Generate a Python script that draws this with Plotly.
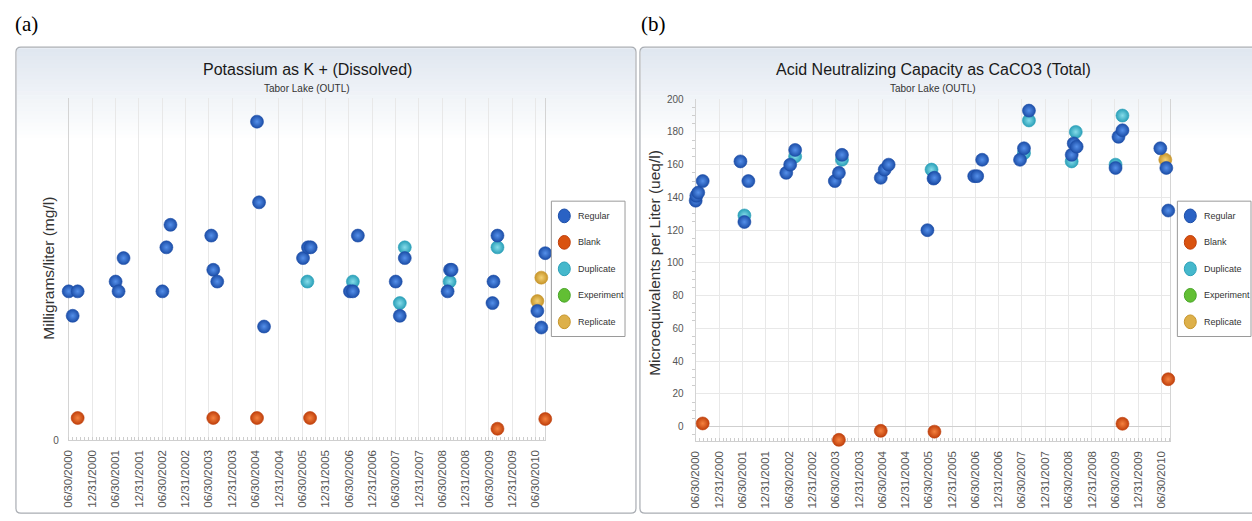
import plotly.graph_objects as go
import pandas as pd

W, H = 1252, 521

# ---------------- data ----------------
categories = ["Regular", "Blank", "Duplicate", "Experiment", "Replicate"]
cat_edge = ["#1c4ea8", "#c0400c", "#2aa0b8", "#4aa62a", "#c7952a"]
cat_center = ["#5590ea", "#f5823f", "#86dcea", "#9ade66", "#f4d275"]
cat_mid = ["#2a62c4", "#d9520f", "#45b8cc", "#62bf34", "#ddb04a"]

tick_labels = ["06/30/2000", "12/31/2000", "06/30/2001", "12/31/2001", "06/30/2002",
               "12/31/2002", "06/30/2003", "12/31/2003", "06/30/2004", "12/31/2004",
               "06/30/2005", "12/31/2005", "06/30/2006", "12/31/2006", "06/30/2007",
               "12/31/2007", "06/30/2008", "12/31/2008", "06/30/2009", "12/31/2009",
               "06/30/2010"]

# (a) Potassium as K+ (Dissolved), mg/l
k_reg_dates = ["2000-06-30", "2000-07-31", "2000-09-08", "2001-07-02", "2001-07-25", "2001-09-02",
               "2002-07-03", "2002-08-03", "2002-09-04", "2003-07-20", "2003-08-05", "2003-09-05",
               "2004-07-12", "2004-07-28", "2004-09-05", "2005-07-07", "2005-08-15", "2005-09-05",
               "2006-07-09", "2006-08-01", "2006-09-09", "2007-07-02", "2007-08-03", "2007-09-11",
               "2008-08-11", "2008-08-30", "2008-09-11", "2009-07-28", "2009-08-05", "2009-09-05",
               "2010-07-14", "2010-08-14", "2010-09-14"]
k_reg_vals = [0.305, 0.255, 0.305, 0.325, 0.305, 0.373, 0.305, 0.395, 0.441, 0.419, 0.349, 0.325,
              0.652, 0.487, 0.233, 0.373, 0.395, 0.395, 0.305, 0.305, 0.419, 0.325, 0.255, 0.373,
              0.305, 0.349, 0.349, 0.281, 0.325, 0.419, 0.265, 0.231, 0.383]
k_blank_dates = ["2000-09-08", "2003-08-05", "2004-07-12", "2005-08-31", "2009-09-05", "2010-09-14"]
k_blank_vals = [0.046, 0.046, 0.046, 0.046, 0.024, 0.044]
k_dup_dates = ["2005-08-10", "2006-08-01", "2007-08-03", "2007-09-11", "2008-08-27", "2009-09-05"]
k_dup_vals = [0.325, 0.325, 0.281, 0.395, 0.325, 0.395]
k_exp_dates = []
k_exp_vals = []
k_rep_dates = ["2010-07-14", "2010-08-14"]
k_rep_vals = [0.285, 0.333]

# (b) Acid Neutralizing Capacity as CaCO3 (Total), ueq/l
a_reg_dates = ["2000-06-30", "2000-07-05", "2000-07-20", "2000-08-24", "2001-06-16", "2001-07-17",
               "2001-08-17", "2002-06-10", "2002-07-11", "2002-08-19", "2003-06-26", "2003-07-28",
               "2003-08-21", "2004-06-20", "2004-07-21", "2004-08-21", "2005-06-21", "2005-08-08",
               "2005-08-15", "2006-06-23", "2006-07-16", "2006-08-24", "2007-06-17", "2007-07-18",
               "2007-08-26", "2008-07-26", "2008-08-11", "2008-09-03", "2009-07-05", "2009-07-28",
               "2009-08-28", "2010-06-21", "2010-08-07", "2010-08-22"]
a_reg_vals = [138, 141, 143, 150, 162, 125, 150, 155, 160, 169, 150, 155, 166, 152, 157, 160,
              120, 151.5, 152, 153, 153, 163, 163, 170, 193, 166, 173, 171, 158, 177, 181,
              170, 158, 132]
a_blank_dates = ["2000-08-24", "2003-07-28", "2004-06-20", "2005-08-15", "2009-08-28", "2010-08-22"]
a_blank_vals = [2, -8, -2.5, -3, 1.8, 29]
a_dup_dates = ["2001-07-17", "2002-08-19", "2003-08-21", "2005-07-23", "2007-07-18", "2007-08-26",
               "2008-07-26", "2008-08-27", "2009-07-05", "2009-08-28"]
a_dup_vals = [129, 165, 163, 157, 167, 187, 162, 180, 160, 190]
a_exp_dates = []
a_exp_vals = []
a_rep_dates = ["2010-07-30"]
a_rep_vals = [163]

# ---------------- helpers ----------------
def px(x):
    return x / W

def py(y):
    return 1 - y / H

fig = go.Figure()

panels = [
    ("x", "y", {"Regular": (k_reg_dates, k_reg_vals), "Blank": (k_blank_dates, k_blank_vals),
                "Duplicate": (k_dup_dates, k_dup_vals), "Experiment": (k_exp_dates, k_exp_vals),
                "Replicate": (k_rep_dates, k_rep_vals)}),
    ("x2", "y2", {"Regular": (a_reg_dates, a_reg_vals), "Blank": (a_blank_dates, a_blank_vals),
                  "Duplicate": (a_dup_dates, a_dup_vals), "Experiment": (a_exp_dates, a_exp_vals),
                  "Replicate": (a_rep_dates, a_rep_vals)}),
]
draw_order = ["Duplicate", "Replicate", "Experiment", "Blank", "Regular"]
for xa, ya, series in panels:
    for name in draw_order:
        i = categories.index(name)
        d, v = series[name]
        fig.add_trace(go.Scatter(
            x=pd.to_datetime(d) if d else [], y=v, mode="markers", name=name,
            xaxis=xa, yaxis=ya, showlegend=False, cliponaxis=False,
            marker=dict(size=13, color=cat_edge[i],
                        gradient=dict(type="radial", color=cat_center[i]),
                        line=dict(width=0.6, color=cat_edge[i])),
        ))

tickvals = pd.to_datetime(tick_labels, format="%m/%d/%Y")

common_x = dict(type="date", tickmode="array", tickvals=tickvals, ticktext=tick_labels,
                tickangle=-90, tickfont=dict(family="Liberation Sans, Arial", size=11.5, color="#555"),
                showgrid=True, gridcolor="#e8e8e8", gridwidth=1, showline=True, linecolor="#cfcfcf",
                zeroline=False, ticks="", ticklabelstandoff=4, layer="below traces",
                minor=dict(tick0="2000-06-30", dtick="M1", ticks="inside", ticklen=3,
                           tickcolor="#cdcdcd", showgrid=False))

fig.update_layout(
    width=W, height=H, margin=dict(l=0, r=0, t=0, b=0),
    paper_bgcolor="white", plot_bgcolor="rgba(0,0,0,0)", showlegend=False,
    xaxis=dict(domain=[px(63), px(542)], range=["2000-06-30", "2010-09-15"], anchor="y", **common_x),
    yaxis=dict(domain=[py(444), py(95)], range=[0, 0.7], anchor="x", tickmode="array",
               tickvals=[0], ticktext=["0"], showgrid=False, zeroline=False, showline=True,
               mirror=True, linecolor="#d4d4d4", ticks="", ticklabelstandoff=7, layer="below traces",
               tickfont=dict(family="Liberation Sans, Arial", size=10, color="#555")),
    xaxis2=dict(domain=[px(693), px(1170)], range=["2000-06-30", "2010-09-08"], anchor="y2", **common_x),
    yaxis2=dict(domain=[py(445), py(96)], range=[-9, 200], anchor="x2", tick0=0, dtick=20,
                showgrid=True, gridcolor="#e8e8e8", zeroline=True, zerolinecolor="#cfcfcf",
                zerolinewidth=1, showline=True, mirror=True, linecolor="#d4d4d4",
                ticks="", ticklabelstandoff=9, layer="below traces",
                minor=dict(dtick=5, ticks="outside", ticklen=3, tickcolor="#cdcdcd", showgrid=False),
                tickfont=dict(family="Liberation Sans, Arial", size=10, color="#555")),
)

shapes = []
# gradient header bands in each panel
top_rgb = (224, 231, 240)
n_bands = 24
g_top, g_bot = 44, 140
for (x0, x1) in [(11, 632), (638, 1252)]:
    for b in range(n_bands):
        t = b / (n_bands - 1)
        c = tuple(int(round(top_rgb[k] + (255 - top_rgb[k]) * t)) for k in range(3))
        y0 = g_top + (g_bot - g_top) * b / n_bands
        y1 = g_top + (g_bot - g_top) * (b + 1) / n_bands + 0.5
        shapes.append(dict(type="rect", xref="paper", yref="paper", layer="below",
                           x0=px(x0), x1=px(x1), y0=py(y1), y1=py(y0),
                           line=dict(width=0), fillcolor="rgb(%d,%d,%d)" % c))

def rounded(x0, y0, x1, y1, r=5):
    rx, ry = r / W, r / H
    X0, X1, Y0, Y1 = px(x0), px(x1), py(y1), py(y0)  # Y1 top
    return (f"M {X0+rx} {Y1} L {X1-rx} {Y1} Q {X1} {Y1} {X1} {Y1-ry} "
            f"L {X1} {Y0+ry} Q {X1} {Y0} {X1-rx} {Y0} L {X0+rx} {Y0} "
            f"Q {X0} {Y0} {X0} {Y0+ry} L {X0} {Y1-ry} Q {X0} {Y1} {X0+rx} {Y1} Z")

for (x0, x1) in [(10, 633), (637, 1258)]:
    shapes.append(dict(type="path", xref="paper", yref="paper", layer="above",
                       path=rounded(x0, 43, x1, 518), line=dict(color="#a9adb3", width=1.2)))

# legends
annotations = []
for lx in [548, 1177]:
    shapes.append(dict(type="rect", xref="paper", yref="paper", layer="above",
                       x0=px(lx), x1=px(lx + 74), y0=py(338), y1=py(200),
                       line=dict(color="#9a9a9a", width=1), fillcolor="white"))
    for i, name in enumerate(categories):
        cy = 215 + 27 * i
        cx = lx + 13
        shapes.append(dict(type="circle", xref="paper", yref="paper", layer="above",
                           x0=px(cx - 6), x1=px(cx + 6), y0=py(cy + 7), y1=py(cy - 7),
                           fillcolor=cat_mid[i], line=dict(color=cat_edge[i], width=1)))
        annotations.append(dict(xref="paper", yref="paper", x=px(lx + 25), y=py(cy),
                                xanchor="left", yanchor="middle", showarrow=False, text=name,
                                font=dict(family="Liberation Sans, Arial", size=9, color="#333")))

# panel labels, titles, axis titles
for txt, x in [("(a)", 7), ("(b)", 636)]:
    annotations.append(dict(xref="paper", yref="paper", x=px(x), y=py(19), xanchor="left",
                            yanchor="middle", showarrow=False, text=txt,
                            font=dict(family="Liberation Serif, Times New Roman", size=21, color="black")))
titles = [("Potassium as K + (Dissolved)", (63 + 542) / 2),
          ("Acid Neutralizing Capacity as CaCO3 (Total)", (693 + 1170) / 2)]
for txt, cx in titles:
    annotations.append(dict(xref="paper", yref="paper", x=px(cx), y=py(66), xanchor="center",
                            yanchor="middle", showarrow=False, text=txt,
                            font=dict(family="Liberation Sans, Arial", size=16, color="#1a1a1a")))
    annotations.append(dict(xref="paper", yref="paper", x=px(cx), y=py(85), xanchor="center",
                            yanchor="middle", showarrow=False, text="Tabor Lake (OUTL)",
                            font=dict(family="Liberation Sans, Arial", size=10, color="#333")))
for txt, x, y in [("Milligrams/liter (mg/l)", 43, 268), ("Microequivalents per Liter (ueq/l)", 652, 263)]:
    annotations.append(dict(xref="paper", yref="paper", x=px(x), y=py(y), xanchor="center",
                            yanchor="middle", showarrow=False, text=txt, textangle=-90,
                            font=dict(family="Liberation Sans, Arial", size=15.5, color="#333")))

fig.update_layout(shapes=shapes, annotations=annotations)
fig.write_html("out.html")
